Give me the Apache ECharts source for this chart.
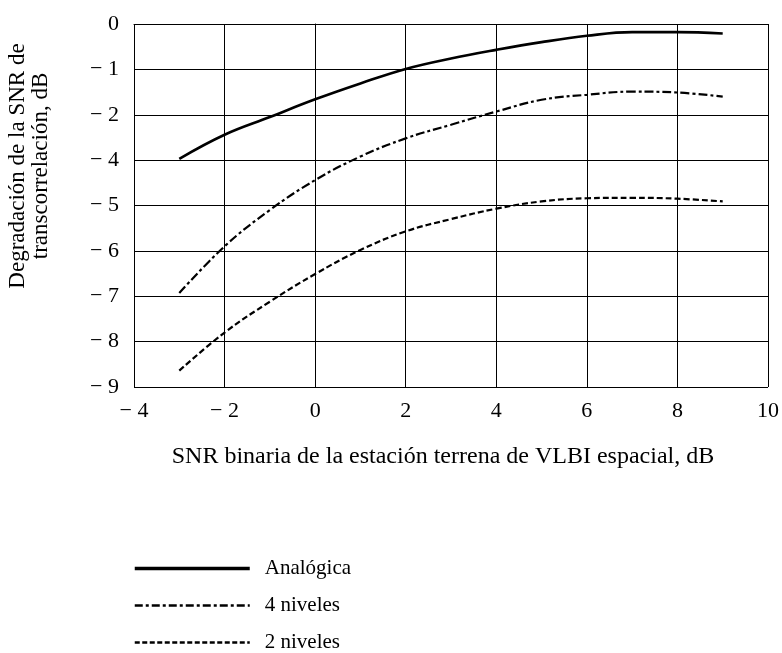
<!DOCTYPE html>
<html>
<head>
<meta charset="utf-8">
<script src="https://cdn.jsdelivr.net/npm/echarts@6/dist/echarts.min.js"></script>
<style>
html,body{margin:0;padding:0;background:#fff;}
#chart{width:782px;height:653px;}
</style>
</head>
<body>
<div id="chart"></div>
<script>
// x values (SNR binaria, dB)
const xValues = [-3, -2, -1, 0, 1, 2, 3, 4, 5, 6, 7, 8, 9];
// y values (axis position units; tick labels below as printed in the original)
const analogica = [-2.97, -2.44, -2.05, -1.66, -1.31, -0.99, -0.76, -0.57, -0.40, -0.26, -0.18, -0.18, -0.21];
const niveles4 = [-5.93, -4.90, -4.10, -3.44, -2.92, -2.52, -2.22, -1.93, -1.67, -1.56, -1.49, -1.51, -1.60];
const niveles2 = [-7.64, -6.80, -6.12, -5.51, -4.98, -4.57, -4.30, -4.07, -3.91, -3.84, -3.83, -3.85, -3.91];

const seriesNames = ['Analógica', '4 niveles', '2 niveles'];
const yTickLabels = ['0', '− 1', '− 2', '− 4', '− 5', '− 6', '− 7', '− 8', '− 9'];
const xTickLabels = {'-4': '− 4', '-2': '− 2', '0': '0', '2': '2', '4': '4', '6': '6', '8': '8', '10': '10'};
const xTitle = 'SNR binaria de la estación terrena de VLBI espacial, dB';
const yTitle = ['Degradación de la SNR de', 'transcorrelación, dB'];

const FONT = '"Liberation Serif", "Times New Roman", serif';
const pairs = arr => xValues.map((x, i) => [x, arr[i]]);

const legendStyles = [
  {width: 3.5, type: 'solid'},
  {width: 2.5, type: [8, 3, 3, 3]},
  {width: 2.5, type: [5, 2.5]}
];

const chart = echarts.init(document.getElementById('chart'), null, {renderer: 'canvas'});
chart.setOption({
  animation: false,
  backgroundColor: '#fff',
  color: ['#000', '#000', '#000'],
  grid: {left: 134, top: 24, right: 13, bottom: 266, containLabel: false},
  xAxis: {
    type: 'value', min: -4, max: 10, interval: 2,
    name: xTitle, nameLocation: 'middle', nameGap: 58,
    nameTextStyle: {fontFamily: FONT, fontSize: 24, color: '#000', padding: [0, 16, 0, 0]},
    axisLine: {show: true, lineStyle: {color: '#000', width: 1}},
    axisTick: {show: false},
    splitLine: {show: true, lineStyle: {color: '#000', width: 1}},
    axisLabel: {fontFamily: FONT, fontSize: 22, color: '#000', margin: 13,
      formatter: v => xTickLabels[String(v)]}
  },
  yAxis: {
    type: 'value', min: -8, max: 0, interval: 1,
    axisLine: {show: true, lineStyle: {color: '#000', width: 1}},
    axisTick: {show: false},
    splitLine: {show: true, lineStyle: {color: '#000', width: 1}},
    axisLabel: {fontFamily: FONT, fontSize: 22, color: '#000', margin: 15,
      formatter: v => yTickLabels[Math.round(-v)]}
  },
  legend: {
    orient: 'vertical', left: 133, top: 558, height: 95, padding: 0,
    itemWidth: 115, itemHeight: 14, itemGap: 16,
    itemStyle: {opacity: 0, borderWidth: 0},
    textStyle: {fontFamily: FONT, fontSize: 21, color: '#000', padding: [0, 0, 0, 10]},
    data: seriesNames.map((n, i) => ({name: n, lineStyle: Object.assign({color: '#000'}, legendStyles[i])}))
  },
  graphic: [
    {type: 'text', x: 29, y: 166, rotation: Math.PI / 2,
     style: {text: yTitle.join('\n'), fontFamily: FONT, fontSize: 23, fill: '#000',
             align: 'center', verticalAlign: 'middle', lineHeight: 23}}
  ],
  series: [
    {name: seriesNames[0], type: 'line', smooth: 0.4, symbol: 'none', data: pairs(analogica),
     itemStyle: {color: '#000'},
     lineStyle: {color: '#000', width: 2.6, type: 'solid'}},
    {name: seriesNames[1], type: 'line', smooth: 0.4, symbol: 'none', data: pairs(niveles4),
     itemStyle: {color: '#000'},
     lineStyle: {color: '#000', width: 2.2, type: [9, 3, 3, 3]}},
    {name: seriesNames[2], type: 'line', smooth: 0.4, symbol: 'none', data: pairs(niveles2),
     itemStyle: {color: '#000'},
     lineStyle: {color: '#000', width: 2.2, type: [6, 3]}}
  ]
});
</script>
</body>
</html>
